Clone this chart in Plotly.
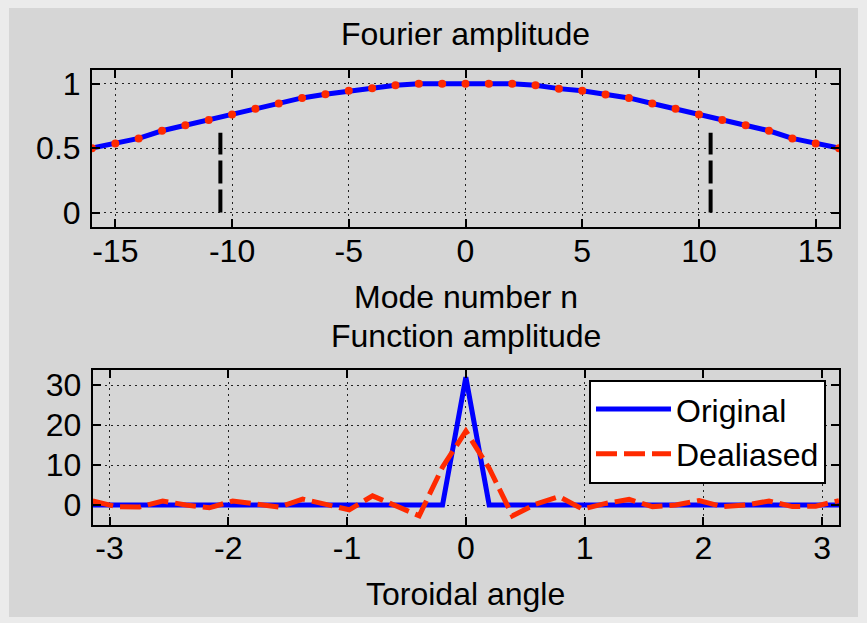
import plotly.graph_objects as go

# ---------------- data ----------------
mode_n = [-16, -15, -14, -13, -12, -11, -10, -9, -8, -7, -6, -5, -4, -3, -2, -1, 0,
          1, 2, 3, 4, 5, 6, 7, 8, 9, 10, 11, 12, 13, 14, 15, 16]
fourier_amp = [0.5, 0.537, 0.576, 0.635, 0.678, 0.719, 0.762, 0.806, 0.847, 0.890, 0.919,
               0.946, 0.965, 0.988, 1.0, 1.0, 1.0, 1.0, 1.0, 0.988, 0.962, 0.946, 0.916,
               0.890, 0.847, 0.806, 0.762, 0.719, 0.678, 0.635, 0.576, 0.537, 0.5]
cutoff_n = [-10.5, 10.5]
cutoff_top = 0.62

angle = [-3.1416, -2.9452, -2.7489, -2.5525, -2.3562, -2.1598, -1.9635, -1.7671, -1.5708,
         -1.3744, -1.1781, -0.9817, -0.7854, -0.5890, -0.3927, -0.1963, 0.0,
         0.1963, 0.3927, 0.5890, 0.7854, 0.9817, 1.1781, 1.3744, 1.5708, 1.7671,
         1.9635, 2.1598, 2.3562, 2.5525, 2.7489, 2.9452, 3.1416]
original = [0, 0, 0, 0, 0, 0, 0, 0, 0, 0, 0, 0, 0, 0, 0, 0, 32,
            0, 0, 0, 0, 0, 0, 0, 0, 0, 0, 0, 0, 0, 0, 0, 0]
dealiased = [1.0, -0.4, -0.5, 1.0, 0.0, -0.7, 1.0, 0.2, -0.5, 1.5, 0.1, -1.2, 2.3, -0.2,
             -2.7, 9.5, 18.5, 9.2, -2.7, 0.2, 2.1, -1.0, 0.4, 1.4, -0.4, 0.0, 1.1, -0.4,
             0.0, 1.0, -0.4, -0.3, 1.1]

top_xticks = [-15, -10, -5, 0, 5, 10, 15]
top_xlabels = ["-15", "-10", "-5", "0", "5", "10", "15"]
top_yticks = [0, 0.5, 1]
top_ylabels = ["0", "0.5", "1"]
bot_xticks = [-3, -2, -1, 0, 1, 2, 3]
bot_xlabels = ["-3", "-2", "-1", "0", "1", "2", "3"]
bot_yticks = [0, 10, 20, 30]
bot_ylabels = ["0", "10", "20", "30"]

# ---------------- style ----------------
W, H = 867, 623
BLUE = "#0000ff"
RED = "#ff2a00"
FONT = "Liberation Sans, Arial, Helvetica, sans-serif"
FS = 32

def px_x(p):
    return p / W

def px_y(p):
    return 1 - p / H

fig = go.Figure()

fig.add_trace(go.Scatter(x=mode_n, y=fourier_amp, mode="lines+markers",
                         line=dict(color=BLUE, width=5),
                         marker=dict(color=RED, size=8),
                         showlegend=False, xaxis="x", yaxis="y", hoverinfo="skip"))

cx, cy = [], []
for c in cutoff_n:
    cx += [c, c, None]
    cy += [0, cutoff_top, None]
fig.add_trace(go.Scatter(x=cx, y=cy, mode="lines",
                         line=dict(color="black", width=4, dash="23px,6px"),
                         showlegend=False, xaxis="x", yaxis="y", hoverinfo="skip"))

fig.add_trace(go.Scatter(x=angle, y=original, mode="lines", name="Original",
                         line=dict(color=BLUE, width=5),
                         xaxis="x2", yaxis="y2"))
fig.add_trace(go.Scatter(x=angle, y=dealiased, mode="lines", name="Dealiased",
                         line=dict(color=RED, width=5, dash="21px,7px"),
                         xaxis="x2", yaxis="y2"))

axis_common = dict(showline=True, linecolor="black", linewidth=2, mirror="ticks",
                   ticks="inside", ticklen=8, tickwidth=2, tickcolor="black",
                   showgrid=True, gridcolor="#222222", gridwidth=1, griddash="2px,4px",
                   zeroline=False, tickfont=dict(family=FONT, size=FS, color="black"))

fig.update_layout(
    width=W, height=H,
    margin=dict(l=0, r=0, t=0, b=0),
    paper_bgcolor="#ebebeb",
    plot_bgcolor="white",
    font=dict(family=FONT, size=FS, color="black"),
    xaxis=dict(domain=[px_x(92), px_x(839)], range=[-16, 16], tickvals=top_xticks,
               ticktext=top_xlabels, anchor="y", ticklabelstandoff=-6, **axis_common),
    yaxis=dict(domain=[px_y(225.7), px_y(66.7)], range=[-0.113, 1.107], tickvals=top_yticks,
               ticktext=top_ylabels, anchor="x", ticklabelstandoff=3, **axis_common),
    xaxis2=dict(domain=[px_x(92.7), px_x(839)], range=[-3.1416, 3.1416], tickvals=bot_xticks,
                ticktext=bot_xlabels, anchor="y2", ticklabelstandoff=-6, **axis_common),
    yaxis2=dict(domain=[px_y(526.7), px_y(370)], range=[-4.95, 33.85], tickvals=bot_yticks,
                ticktext=bot_ylabels, anchor="x2", ticklabelstandoff=3, **axis_common),
    legend=dict(x=px_x(589), y=px_y(380), xanchor="left", yanchor="top",
                bgcolor="white", bordercolor="black", borderwidth=2,
                font=dict(family=FONT, size=32, color="black"),
                itemwidth=75, tracegroupgap=0),
    shapes=[dict(type="rect", xref="paper", yref="paper", x0=px_x(9), x1=px_x(858),
                 y0=px_y(620), y1=px_y(4), fillcolor="#d6d6d6", line=dict(width=0),
                 layer="below")],
    annotations=[
        dict(text="Fourier amplitude", x=px_x(465), y=px_y(30), xref="paper", yref="paper",
             showarrow=False, xanchor="center", yanchor="middle", font=dict(size=FS)),
        dict(text="Mode number n", x=px_x(466), y=px_y(296), xref="paper", yref="paper",
             showarrow=False, xanchor="center", yanchor="middle", font=dict(size=FS)),
        dict(text="Function amplitude", x=px_x(466), y=px_y(336), xref="paper", yref="paper",
             showarrow=False, xanchor="center", yanchor="middle", font=dict(size=FS)),
        dict(text="Toroidal angle", x=px_x(466), y=px_y(597), xref="paper", yref="paper",
             showarrow=False, xanchor="center", yanchor="middle", font=dict(size=FS)),
    ],
)

fig.write_html("out.html", config={"displayModeBar": False},
               post_script="document.body.style.margin='0';document.body.style.overflow='hidden';")
